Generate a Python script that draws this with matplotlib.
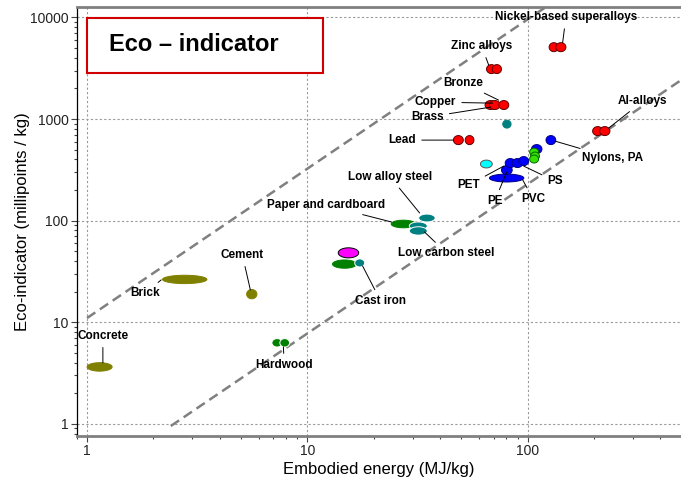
import numpy as np
import matplotlib
matplotlib.use('Agg')
import matplotlib.pyplot as plt
from matplotlib.patches import Rectangle
from matplotlib.ticker import LogLocator, NullFormatter

# one row per bubble: ranges of embodied energy (MJ/kg) and eco-indicator (mPt/kg)
materials = ['Concrete', 'Brick', 'Cement', 'Hardwood', 'Hardwood', 'Glass', 'Softwood',
             'Cast iron', 'Paper and cardboard', 'Low alloy steel', 'Low carbon steel',
             'Low carbon steel', 'PE', 'PET', 'Stainless steel',
             'PVC', 'PP', 'PS', 'PC', 'ABS', 'Elastomer', 'Elastomer', 'Elastomer', 'Nylons, PA',
             'Nickel-based superalloys', 'Nickel-based superalloys', 'Zinc alloys', 'Zinc alloys',
             'Copper', 'Brass', 'Bronze', 'Lead', 'Lead', 'Al-alloys', 'Al-alloys']
energy_lo = [1.0, 2.2, 5.3, 6.9, 7.5, 13.8, 13.0,
             16.4, 24, 32, 29,
             29, 67, 61, 77,
             76, 79, 85, 91, 104, 102, 103, 102, 121,
             125, 134, 65, 69,
             64, 67, 74, 46, 52, 197, 212]
energy_hi = [1.3, 3.5, 5.9, 7.7, 8.3, 17.1, 16.7,
             18.2, 31, 38, 35,
             35, 96, 69, 84,
             85, 88, 95, 101, 116, 112, 113, 112, 134,
             138, 149, 72, 76,
             72, 75, 82, 51, 57, 219, 236]
eco_lo = [3.3, 24, 17, 5.7, 5.7, 43, 34,
          35, 85, 97, 81,
          72, 240, 330, 814,
          284, 333, 333, 348, 457, 432, 394, 369, 560,
          4600, 4600, 2800, 2800,
          1240, 1240, 1240, 560, 560, 687, 687]
eco_hi = [4.0, 29, 21, 6.9, 6.9, 54, 41,
          42, 101, 116, 97,
          87, 287, 394, 975,
          348, 408, 408, 427, 560, 517, 473, 442, 687,
          5640, 5640, 3430, 3430,
          1520, 1520, 1520, 687, 687, 842, 842]

fill_colors = ['#808000'] * 3 + ['#008000'] * 2 + ['#ff00ff', '#008000', '#008080', '#008000',
               '#008080', '#008080', '#008080', '#0000ff', '#00ffff', '#008080'] + \
              ['#0000ff'] * 5 + ['#33e000'] * 3 + ['#0000ff'] + ['#ff0000'] * 11
edge_colors = ['#808000'] * 3 + ['white'] * 2 + ['black', '#008000', 'white', '#008000',
               'white', 'white', 'white', '#000080', '#555555', '#008080'] + \
              ['#000080'] * 5 + ['#006600'] * 3 + ['#000080'] + ['#600000'] * 11

# guide lines of constant eco-indicator / energy ratio: eco = k * energy ** slope
guide_slope = 1.47
guide_k = [11.0, 0.263]
guide_from = [1.0, 2.4]

labels = ['Nickel-based superalloys', 'Zinc alloys', 'Bronze', 'Copper', 'Brass', 'Lead',
          'Al-alloys', 'Nylons, PA', 'PS', 'PET', 'PE', 'PVC', 'Low alloy steel',
          'Paper and cardboard', 'Low carbon steel', 'Cast iron', 'Cement', 'Brick',
          'Concrete', 'Hardwood']
label_pos = [(149, 10040), (61.8, 5210), (51.2, 2254), (38.2, 1466), (35.1, 1044), (27.0, 620),
             (333, 1500), (243, 413), (133, 245), (53.9, 224), (70.8, 156), (106, 163),
             (23.8, 268), (12.1, 142), (42.8, 48.0), (21.5, 16.2), (5.07, 45.9), (1.84, 19.4),
             (1.18, 7.33), (7.86, 3.80)]
leader_tip = [(144, 5650), (66.5, 3390), (73.8, 1534), (69.3, 1433), (67.9, 1309), (46.1, 620),
              (233, 814), (133, 606), (95.9, 344), (77.8, 344), (80.3, 301), (94.9, 251),
              (32.3, 119), (24.1, 96.9), (34.0, 77.3), (17.8, 35.8), (5.51, 20.8), (2.17, 26.1),
              (1.18, 3.98), (7.78, 5.72)]

plt.rcParams['font.family'] = ['Liberation Sans', 'DejaVu Sans']

fig = plt.figure(figsize=(6.81, 4.8), dpi=100)
ax = fig.add_axes([0.113, 0.092, 0.887, 0.893])
ax.set_xscale('log')
ax.set_yscale('log')
ax.set_xlim(0.9, 496)
ax.set_ylim(0.762, 12600)

ax.grid(True, which='major', color='#9a9a9a', linestyle=(0, (2, 2)), linewidth=0.8)
ax.set_axisbelow(True)

for k, x0 in zip(guide_k, guide_from):
    xs = np.array([x0, 700.0])
    ax.plot(xs, k * xs ** guide_slope, color='#808080', lw=1.8,
            linestyle=(0, (4, 2.2)), zorder=2)

# bubbles are ellipses in log-log space spanning each material's ranges
t = np.linspace(0, 2 * np.pi, 80)
for elo, ehi, ilo, ihi, fc, ec in zip(energy_lo, energy_hi, eco_lo, eco_hi,
                                      fill_colors, edge_colors):
    cx, rx = (np.log10(elo) + np.log10(ehi)) / 2, (np.log10(ehi) - np.log10(elo)) / 2
    cy, ry = (np.log10(ilo) + np.log10(ihi)) / 2, (np.log10(ihi) - np.log10(ilo)) / 2
    ax.fill(10 ** (cx + rx * np.cos(t)), 10 ** (cy + ry * np.sin(t)),
            facecolor=fc, edgecolor=ec, lw=0.7, zorder=3)

for name, pos, tip in zip(labels, label_pos, leader_tip):
    ax.annotate(name, xy=tip, xytext=pos, ha='center', va='center',
                fontsize=8.5, fontweight='bold', color='black', zorder=5,
                arrowprops=dict(arrowstyle='-', color='black', lw=0.7,
                                shrinkA=2, shrinkB=0))

ax.add_patch(Rectangle((0.0166, 0.846), 0.39, 0.128, transform=ax.transAxes,
                       facecolor='white', edgecolor='#d00000', lw=1.5, zorder=6))
ax.text(0.053, 0.914, 'Eco \u2013 indicator', transform=ax.transAxes,
        fontsize=17, fontweight='bold', va='center', ha='left', zorder=7)

ax.set_xticks([1, 10, 100])
ax.set_xticklabels(['1', '10', '100'])
ax.set_yticks([1, 10, 100, 1000, 10000])
ax.set_yticklabels(['1', '10', '100', '1000', '10000'])
ax.xaxis.set_minor_locator(LogLocator(base=10, subs=np.arange(2, 10)))
ax.yaxis.set_minor_locator(LogLocator(base=10, subs=np.arange(2, 10)))
ax.xaxis.set_minor_formatter(NullFormatter())
ax.yaxis.set_minor_formatter(NullFormatter())
ax.tick_params(which='major', direction='out', length=4, width=0.8, color='#444444',
               labelsize=10, labelcolor='#222222', pad=2)
ax.tick_params(which='minor', direction='out', length=2, width=0.8, color='#444444')

ax.spines['right'].set_visible(False)
ax.spines['left'].set_color('black')
ax.spines['left'].set_linewidth(0.9)
for side in ('top', 'bottom'):
    ax.spines[side].set_color('#808080')
    ax.spines[side].set_linewidth(2)

ax.set_xlabel('Embodied energy (MJ/kg)', fontsize=12, labelpad=3)
ax.set_ylabel('Eco-indicator (millipoints / kg)', fontsize=12, labelpad=0)

fig.savefig('out.png', dpi=100)
